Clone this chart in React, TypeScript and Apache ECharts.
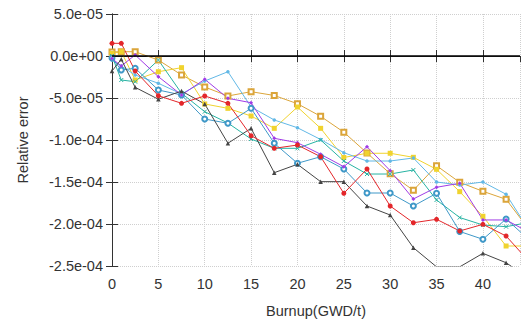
import React, { useEffect, useRef } from "react";
import * as echarts from "echarts";

// Burnup steps (GWD/t)
const burnup = [0, 1, 2.5, 5, 7.5, 10, 12.5, 15, 17.5, 20, 22.5, 25, 27.5, 30, 32.5, 35, 37.5, 40, 42.5, 45];

// Relative error, in units of 1e-5
const redSeries = [1.51, 1.51, -1.79, -4.73, -5.63, -4.76, -5.63, -9.49, -10.99, -10.6, -11.99, -16.35, -13.45, -17.86, -19.85, -19.44, -20.83, -20.04, -21.43, -24.5];
const blackSeries = [-1.79, -0.39, -3.73, -5.15, -4.17, -5.71, -10.39, -8.61, -13.89, -12.89, -14.96, -14.96, -17.86, -18.93, -22.82, -25.1, -25.1, -23.49, -24.61, -26.5];
const purpleSeries = [-0.3, -1.19, 0.12, -2.46, -4.64, -2.77, -5.04, -5.56, -9.8, -10.32, -11.7, -13.18, -10.8, -13.65, -17.02, -15.63, -15.15, -19.52, -19.52, -21];
const lightBlueSeries = [-0.48, -1.19, -2.26, -3.25, -4.52, -2.98, -1.87, -6.07, -7.62, -8.54, -9.94, -11.51, -12.5, -12.5, -12.14, -15.0, -15.36, -15.0, -16.46, -20.8];
const steelBlueSeries = [-0.24, -1.67, -1.46, -4.05, -4.64, -7.5, -8.01, -6.23, -10.39, -12.77, -11.99, -13.45, -16.31, -16.31, -17.86, -16.35, -20.89, -21.82, -19.4, -21.9];
const tealSeries = [0, -2.86, -3.06, -0.48, -4.44, -6.63, -7.98, -9.88, -10.99, -10.99, -10.0, -12.5, -14.05, -14.05, -13.57, -17.14, -19.23, -20.12, -20.32, -19.8];
const yellowSeries = [0.3, 0.51, -2.86, -1.87, -1.39, -5.71, -6.23, -7.14, -8.61, -6.07, -8.61, -12.08, -11.58, -11.58, -12.06, -13.49, -16.15, -19.08, -22.62, -22.62];
const goldSeries = [0.48, 0.51, 0.51, -0.48, -2.26, -3.69, -4.76, -4.25, -4.7, -5.68, -7.18, -9.07, -11.55, -14.01, -15.99, -13.06, -15.04, -16.11, -17.06, -20.7];

const xTitle = "Burnup(GWD/t)";
const yTitle = "Relative error";

function fmt(v: number): string {
  const real = v * 1e-5;
  if (Math.abs(real) < 1e-12) return "0.0e+00";
  const [m, e] = real.toExponential(1).split("e");
  const sign = e[0] === "-" ? "-" : "+";
  const digits = e.replace(/^[+-]/, "").padStart(2, "0");
  return `${m}e${sign}${digits}`;
}

const FONT = "'Liberation Sans', Arial, sans-serif";
const AXIS_COLOR = "#333";

export default function App() {
  const ref = useRef<HTMLDivElement>(null);
  useEffect(() => {
    if (!ref.current) return;
    const chart = echarts.init(ref.current, null, { renderer: "svg" });
    const mk = (name: string, data: number[], color: string, symbol: string, size: number, extra: any = {}) => ({
      name,
      type: "line",
      data: burnup.map((x, i) => [x, data[i]]),
      color,
      symbol,
      symbolSize: size,
      clip: true,
      lineStyle: { width: 1, color },
      itemStyle: { color, ...(extra.itemStyle || {}) },
      z: extra.z || 2,
    });
    const series: any[] = [
      mk("gold", goldSeries, "#dba53a", "emptyRect", 5, { itemStyle: { borderWidth: 1 } }),
      mk("yellow", yellowSeries, "#f0d32e", "rect", 5),
      mk("lightblue", lightBlueSeries, "#62b8e6", "circle", 3.5),
      mk("teal", tealSeries, "#27b3a3", "path://M0,0L10,10M10,0L0,10", 4, { itemStyle: { borderColor: "#27b3a3", borderWidth: 1 } }),
      mk("steelblue", steelBlueSeries, "#3f98c8", "emptyCircle", 5, { itemStyle: { borderWidth: 1 } }),
      mk("purple", purpleSeries, "#a03be6", "diamond", 4),
      mk("black", blackSeries, "#444444", "triangle", 4.5),
      mk("red", redSeries, "#e3262a", "circle", 5),
    ];
    series[0].markLine = {
      silent: true,
      symbol: "none",
      label: { show: false },
      lineStyle: { color: "#000", width: 1.5, type: "solid" },
      data: [{ yAxis: 0 }],
    };
    const axisLine = { show: true, lineStyle: { color: AXIS_COLOR, width: 1 } };
    const axisTick = { show: true, inside: true, length: 6, lineStyle: { color: AXIS_COLOR } };
    const splitLine = { show: true, lineStyle: { color: "#cfcfcf", type: "dotted", width: 1 } };
    chart.setOption({
      animation: false,
      backgroundColor: "#fff",
      grid: { left: 112, right: 1, top: 14, bottom: 58 },
      xAxis: [
        {
          type: "value",
          min: 0,
          max: 44,
          interval: 5,
          axisLine,
          axisTick,
          splitLine,
          axisLabel: { color: AXIS_COLOR, fontSize: 14.5, fontFamily: FONT, margin: 10, showMaxLabel: false },
          name: xTitle,
          nameLocation: "middle",
          nameGap: 37,
          nameTextStyle: { color: AXIS_COLOR, fontSize: 14.5, fontFamily: FONT },
        },
        {
          type: "value",
          position: "top",
          min: 0,
          max: 44,
          interval: 5,
          axisLine,
          axisTick,
          splitLine: { show: false },
          axisLabel: { show: false },
        },
      ],
      yAxis: [
        {
          type: "value",
          min: -25,
          max: 5,
          interval: 5,
          axisLine,
          axisTick,
          splitLine,
          axisLabel: { color: AXIS_COLOR, fontSize: 14.5, fontFamily: FONT, margin: 9, formatter: fmt },
          name: yTitle,
          nameLocation: "middle",
          nameGap: 82,
          nameTextStyle: { color: AXIS_COLOR, fontSize: 14.5, fontFamily: FONT },
        },
        {
          type: "value",
          position: "right",
          min: -25,
          max: 5,
          interval: 5,
          axisLine,
          axisTick,
          splitLine: { show: false },
          axisLabel: { show: false },
        },
      ],
      series,
    });
    return () => chart.dispose();
  }, []);
  return <div ref={ref} style={{ position: "fixed", left: 0, top: 0, width: 521, height: 324 }} />;
}
